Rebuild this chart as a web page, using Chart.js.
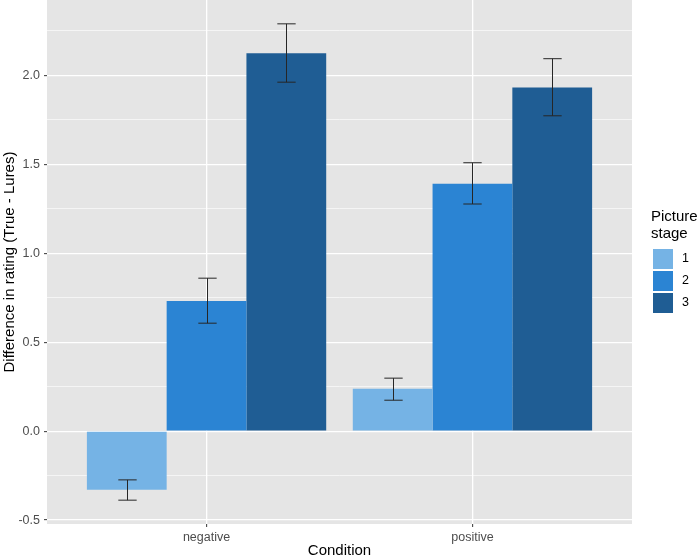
<!DOCTYPE html>
<html>
<head>
<meta charset="utf-8">
<script src="https://cdn.jsdelivr.net/npm/chart.js@4"></script>
<style>
  html, body { margin: 0; padding: 0; background: #fff; }
  canvas { display: block; }
</style>
</head>
<body>
<canvas id="chart" width="700" height="557"></canvas>
<script>
// Data
const conditions = ['negative', 'positive'];
const stages = ['1', '2', '3'];
const stageColors = ['#75b3e5', '#2b84d3', '#1f5d94'];

const stage1Mean = [-0.330, 0.238];
const stage2Mean = [0.732, 1.391];
const stage3Mean = [2.125, 1.932];

const stage1Low = [-0.388, 0.174];
const stage2Low = [0.607, 1.277];
const stage3Low = [1.962, 1.773];

const stage1High = [-0.274, 0.298];
const stage2High = [0.860, 1.509];
const stage3High = [2.290, 2.094];

const yMajorTicks = [-0.5, 0, 0.5, 1, 1.5, 2];
const yMinorTicks = [-0.25, 0.25, 0.75, 1.25, 1.75, 2.25];

const means = [stage1Mean, stage2Mean, stage3Mean];
const lows = [stage1Low, stage2Low, stage3Low];
const highs = [stage1High, stage2High, stage3High];

const FONT = "'Liberation Sans', Arial, Helvetica, sans-serif";
const isMajor = v => yMajorTicks.some(t => Math.abs(t - v) < 1e-9);

// grey panel behind the grid
const panelBg = {
  id: 'panelBg',
  beforeDraw(chart) {
    const { ctx, chartArea: a } = chart;
    ctx.save();
    ctx.fillStyle = '#e5e5e5';
    ctx.fillRect(a.left, a.top, a.right - a.left, a.bottom - a.top);
    ctx.restore();
  }
};

// error bars on top of each bar
const errorBars = {
  id: 'errorBars',
  afterDatasetsDraw(chart) {
    const { ctx } = chart;
    const yScale = chart.scales.y;
    ctx.save();
    ctx.strokeStyle = '#262626';
    ctx.lineWidth = 1;
    chart.data.datasets.forEach((ds, di) => {
      const meta = chart.getDatasetMeta(di);
      meta.data.forEach((bar, i) => {
        const x = Math.round(bar.x) + 0.5;
        const half = bar.width * 0.115;
        const yLo = yScale.getPixelForValue(lows[di][i]);
        const yHi = yScale.getPixelForValue(highs[di][i]);
        ctx.beginPath();
        ctx.moveTo(x, yLo); ctx.lineTo(x, yHi);
        ctx.moveTo(x - half, yLo); ctx.lineTo(x + half, yLo);
        ctx.moveTo(x - half, yHi); ctx.lineTo(x + half, yHi);
        ctx.stroke();
      });
    });
    ctx.restore();
  }
};

// ggplot-like legend on the right
const sideLegend = {
  id: 'sideLegend',
  afterDraw(chart) {
    const { ctx } = chart;
    const left = 652;
    ctx.save();
    ctx.fillStyle = '#000';
    ctx.font = '15px ' + FONT;
    ctx.textAlign = 'left';
    ctx.textBaseline = 'alphabetic';
    ctx.fillText('Picture', left - 1, 221);
    ctx.fillText('stage', left - 1, 238);
    stages.forEach((s, i) => {
      const top = 249 + i * 22;
      ctx.fillStyle = stageColors[i];
      ctx.fillRect(left + 1, top, 20, 20);
      ctx.fillStyle = '#000';
      ctx.font = '12.5px ' + FONT;
      ctx.textBaseline = 'middle';
      ctx.fillText(s, left + 30, top + 10);
      ctx.textBaseline = 'alphabetic';
    });
    ctx.restore();
  }
};

const datasets = stages.map((s, i) => ({
  label: s,
  data: conditions.map((c, j) => ({ x: j + 1, y: means[i][j] })),
  backgroundColor: stageColors[i],
  borderWidth: 0,
  categoryPercentage: 0.9,
  barPercentage: 1.0
}));

new Chart(document.getElementById('chart'), {
  type: 'bar',
  data: { datasets },
  options: {
    responsive: false,
    animation: false,
    devicePixelRatio: 1,
    layout: { padding: { left: 0, right: 68, top: 0, bottom: 0 } },
    plugins: {
      legend: { display: false },
      tooltip: { enabled: false }
    },
    scales: {
      x: {
        type: 'linear',
        min: 0.4,
        max: 2.6,
        offset: false,
        afterBuildTicks: scale => {
          scale.ticks = conditions.map((c, j) => ({ value: j + 1 }));
        },
        afterFit: scale => {
          scale.height = 33;
          scale.paddingLeft = 0;
          scale.paddingRight = 0;
        },
        ticks: {
          callback: v => conditions[Math.round(v) - 1] || '',
          color: '#4d4d4d',
          font: { family: FONT, size: 12.5 },
          padding: 3,
          maxRotation: 0,
          autoSkip: false
        },
        grid: {
          offset: false,
          color: '#ffffff',
          lineWidth: 1.3,
          drawTicks: true,
          tickLength: 3,
          tickColor: '#333333',
          tickWidth: 1
        },
        border: { display: false },
        title: {
          display: true,
          text: 'Condition',
          color: '#000',
          font: { family: FONT, size: 15, lineHeight: 0.8 },
          padding: { top: 0, bottom: 0 }
        }
      },
      y: {
        min: -0.522,
        max: 2.424,
        afterBuildTicks: scale => {
          scale.ticks = yMajorTicks.concat(yMinorTicks)
            .sort((a, b) => a - b)
            .map(v => ({ value: v }));
        },
        afterFit: scale => {
          scale.width = 47;
          scale.paddingTop = 0;
          scale.paddingBottom = 0;
        },
        ticks: {
          callback: v => isMajor(v) ? v.toFixed(1) : '',
          color: '#4d4d4d',
          font: { family: FONT, size: 12.5 },
          padding: 4,
          autoSkip: false
        },
        grid: {
          color: '#ffffff',
          lineWidth: ctx => isMajor(ctx.tick.value) ? 1.3 : 0.6,
          drawTicks: true,
          tickLength: 3,
          tickColor: ctx => isMajor(ctx.tick.value) ? '#333333' : 'rgba(0,0,0,0)',
          tickWidth: 1
        },
        border: { display: false },
        title: {
          display: true,
          text: 'Difference in rating (True - Lures)',
          color: '#000',
          font: { family: FONT, size: 15, lineHeight: 1 },
          padding: { top: 2.5, bottom: 0 }
        }
      }
    }
  },
  plugins: [panelBg, errorBars, sideLegend]
});
</script>
</body>
</html>
